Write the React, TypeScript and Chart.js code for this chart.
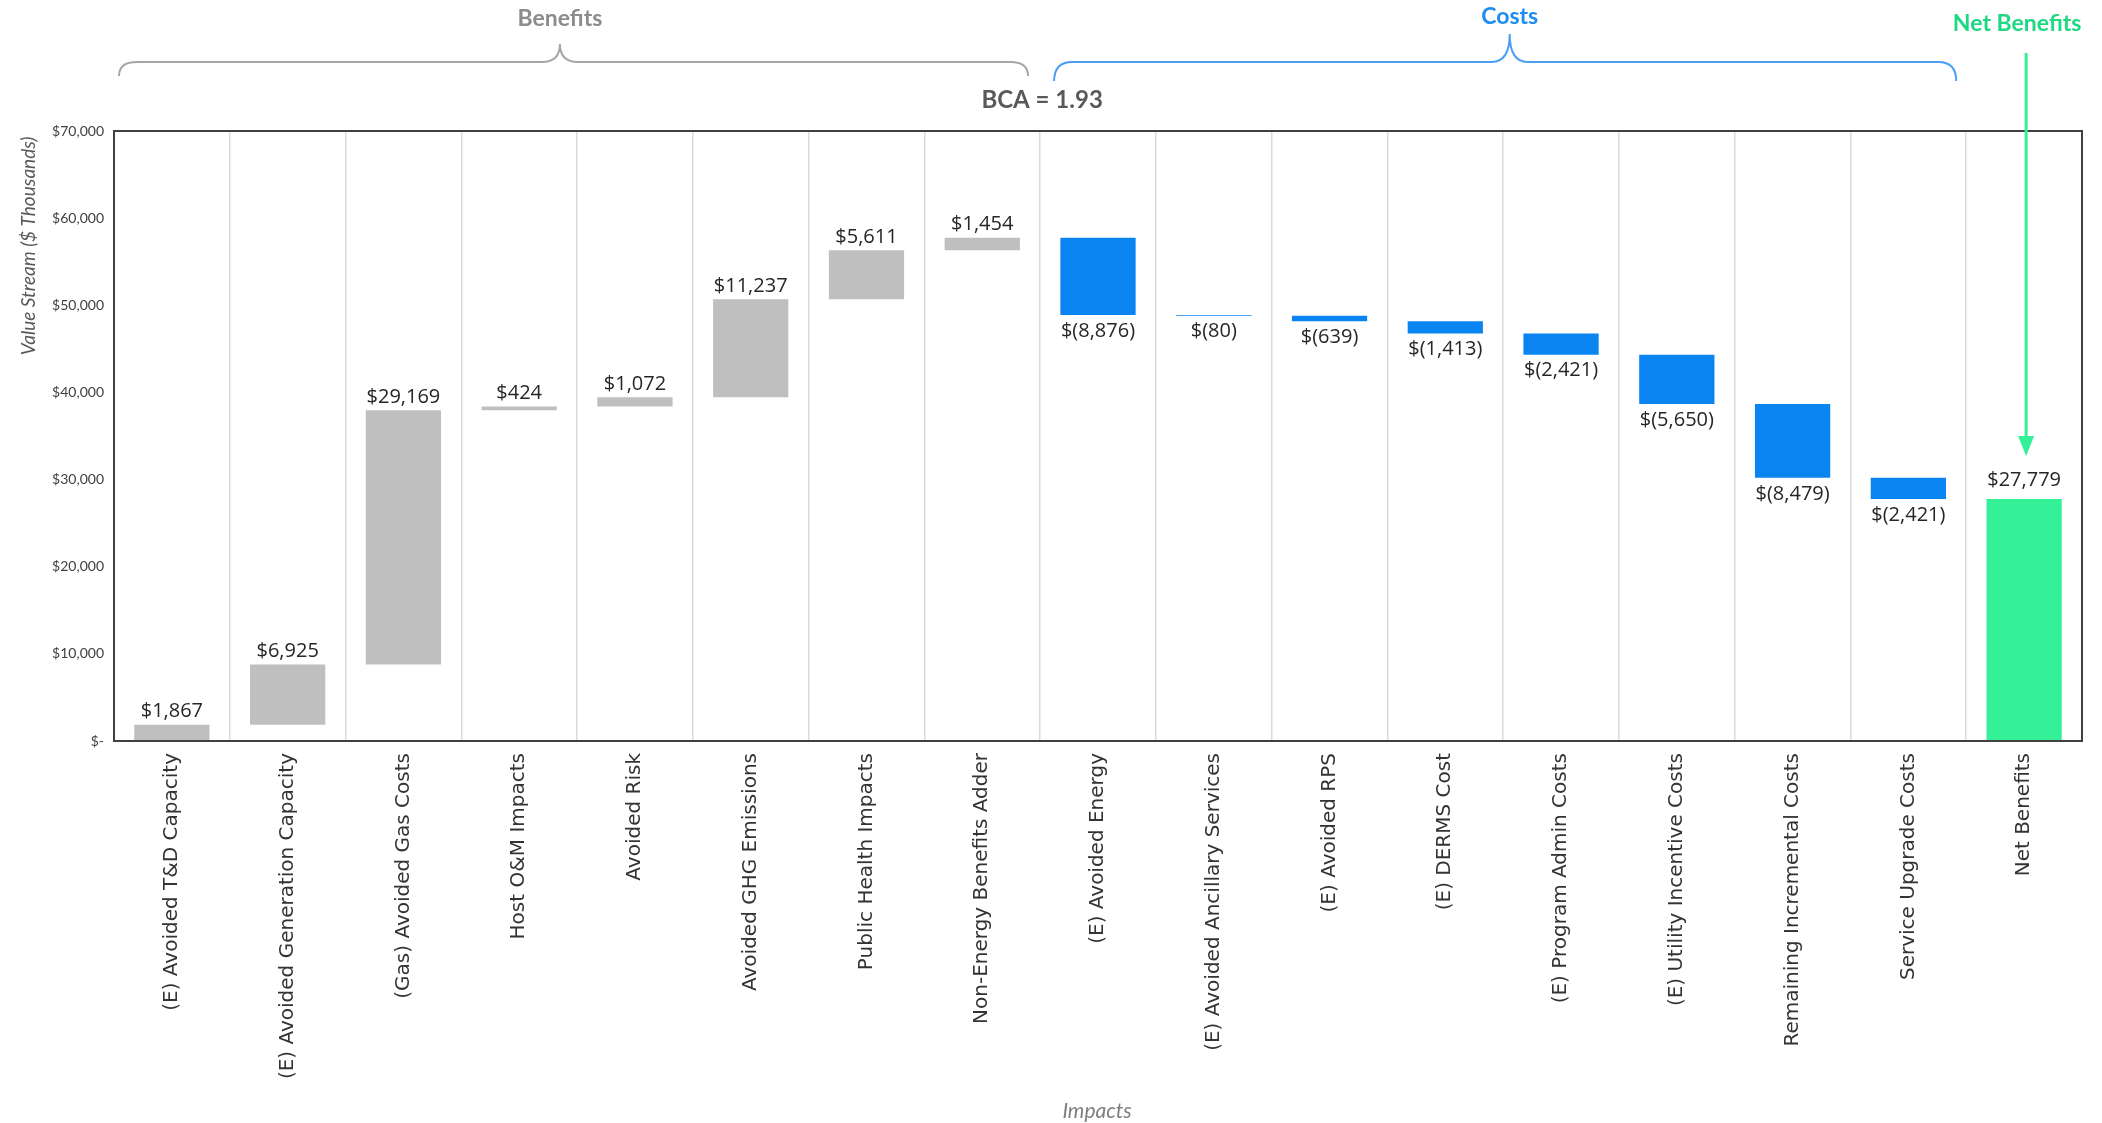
import React, { useEffect, useRef } from 'react';
import { Chart, registerables } from 'chart.js';

Chart.register(...registerables);

const benefitLabels = [
  '(E) Avoided T&D Capacity',
  '(E) Avoided Generation Capacity',
  '(Gas) Avoided Gas Costs',
  'Host O&M Impacts',
  'Avoided Risk',
  'Avoided GHG Emissions',
  'Public Health Impacts',
  'Non-Energy Benefits Adder',
];
const costLabels = [
  '(E) Avoided Energy',
  '(E) Avoided Ancillary Services',
  '(E) Avoided RPS',
  '(E) DERMS Cost',
  '(E) Program Admin Costs',
  '(E) Utility Incentive Costs',
  'Remaining Incremental Costs',
  'Service Upgrade Costs',
];
const netLabel = 'Net Benefits';

const benefitValues = [1867, 6925, 29169, 424, 1072, 11237, 5611, 1454];
const costValues = [8876, 80, 639, 1413, 2421, 5650, 8479, 2421];
const netBenefitValue = 27779;

const yTickValues = [0, 10000, 20000, 30000, 40000, 50000, 60000, 70000];
const bcaText = 'BCA = 1.93';

const GRAY = '#bfbfbf';
const BLUE = '#0a84f0';
const GREEN = '#34f097';

const fmt = (v: number) => v.toLocaleString('en-US');

export default function App() {
  const ref = useRef<HTMLCanvasElement | null>(null);

  useEffect(() => {
    document.body.style.margin = '0';
    const canvas = ref.current;
    if (!canvas) return;

    const labels = [...benefitLabels, ...costLabels, netLabel];
    const ranges: [number, number][] = [];
    const colors: string[] = [];
    const texts: string[] = [];
    const kinds: string[] = [];
    let run = 0;
    benefitValues.forEach((v) => {
      ranges.push([run, run + v]);
      run += v;
      colors.push(GRAY);
      texts.push('$' + fmt(v));
      kinds.push('b');
    });
    costValues.forEach((v) => {
      ranges.push([run, run - v]);
      run -= v;
      colors.push(BLUE);
      texts.push('$(' + fmt(v) + ')');
      kinds.push('c');
    });
    ranges.push([0, netBenefitValue]);
    colors.push(GREEN);
    texts.push('$' + fmt(netBenefitValue));
    kinds.push('n');

    const brace = (
      ctx: CanvasRenderingContext2D,
      x1: number,
      x2: number,
      xm: number,
      yEnd: number,
      yH: number,
      yPeak: number,
      color: string
    ) => {
      const r = 18;
      ctx.save();
      ctx.strokeStyle = color;
      ctx.lineWidth = 2;
      ctx.beginPath();
      ctx.moveTo(x1, yEnd);
      ctx.quadraticCurveTo(x1, yH, x1 + r, yH);
      ctx.lineTo(xm - r, yH);
      ctx.quadraticCurveTo(xm, yH, xm, yPeak);
      ctx.quadraticCurveTo(xm, yH, xm + r, yH);
      ctx.lineTo(x2 - r, yH);
      ctx.quadraticCurveTo(x2, yH, x2, yEnd);
      ctx.stroke();
      ctx.restore();
    };

    const overlay = {
      id: 'overlay',
      afterDatasetsDraw(chart: any) {
        const ctx: CanvasRenderingContext2D = chart.ctx;
        const meta = chart.getDatasetMeta(0);
        ctx.save();
        ctx.font = '20px "Open Sans", sans-serif';
        ctx.fillStyle = '#262626';
        ctx.textAlign = 'center';
        ctx.textBaseline = 'middle';
        meta.data.forEach((el: any, i: number) => {
          const top = Math.min(el.y, el.base);
          const bottom = Math.max(el.y, el.base);
          if (kinds[i] === 'c') {
            ctx.fillText(texts[i], el.x, bottom + 16);
          } else if (kinds[i] === 'n') {
            ctx.fillText(texts[i], el.x, top - 19);
          } else {
            ctx.fillText(texts[i], el.x, top - 13);
          }
        });
        ctx.restore();
      },
      afterDraw(chart: any) {
        const ctx: CanvasRenderingContext2D = chart.ctx;
        const a = chart.chartArea;
        const xs = chart.scales.x;
        const catW = (a.right - a.left) / labels.length;
        // plot border
        ctx.save();
        ctx.strokeStyle = '#404040';
        ctx.lineWidth = 2;
        ctx.strokeRect(a.left, a.top, a.right - a.left, a.bottom - a.top);
        ctx.restore();

        // y axis title
        ctx.save();
        ctx.translate(29, 246);
        ctx.rotate(-Math.PI / 2);
        ctx.font = 'italic 19px Lato, sans-serif';
        ctx.fillStyle = '#595959';
        ctx.textAlign = 'center';
        ctx.textBaseline = 'middle';
        ctx.fillText('Value Stream ($ Thousands)', 0, 0);
        ctx.restore();

        // x axis title
        ctx.save();
        ctx.font = 'italic 21px Lato, sans-serif';
        ctx.fillStyle = '#7f7f7f';
        ctx.textAlign = 'center';
        ctx.textBaseline = 'middle';
        ctx.fillText('Impacts', 1097, 1111);
        ctx.restore();

        const nb = benefitLabels.length;
        const nc = costLabels.length;
        const bStart = xs.getPixelForValue(0) - catW / 2 + 5;
        const bEnd = xs.getPixelForValue(nb - 1) + catW / 2 - 12;
        const cStart = xs.getPixelForValue(nb) - catW / 2 + 14;
        const cEnd = xs.getPixelForValue(nb + nc - 1) + catW / 2 - 10;
        const bMid = bStart + (bEnd - bStart) * 0.485;
        const cMid = cStart + (cEnd - cStart) * 0.505;

        brace(ctx, bStart, bEnd, bMid, 76, 62, 44, '#a6a6a6');
        brace(ctx, cStart, cEnd, cMid, 81, 62, 34, '#4a9ff2');

        ctx.save();
        ctx.textAlign = 'center';
        ctx.textBaseline = 'middle';
        ctx.font = 'bold 23px Lato, sans-serif';
        ctx.fillStyle = '#8c8c8c';
        ctx.fillText('Benefits', bMid, 19);
        ctx.fillStyle = '#1e8cf0';
        ctx.fillText('Costs', cMid, 17);
        const nx = xs.getPixelForValue(nb + nc);
        ctx.fillStyle = '#1fd882';
        ctx.fillText('Net Benefits', nx - 7, 24);
        ctx.font = 'bold 24px Lato, sans-serif';
        ctx.fillStyle = '#595959';
        ctx.fillText(bcaText, xs.getPixelForValue(nb) - catW / 2 + 2, 100);
        ctx.restore();

        // green arrow
        const ax = nx + 2;
        ctx.save();
        ctx.strokeStyle = GREEN;
        ctx.fillStyle = GREEN;
        ctx.lineWidth = 3;
        ctx.beginPath();
        ctx.moveTo(ax, 53);
        ctx.lineTo(ax, 440);
        ctx.stroke();
        ctx.beginPath();
        ctx.moveTo(ax - 8, 436);
        ctx.lineTo(ax + 8, 436);
        ctx.lineTo(ax, 456);
        ctx.closePath();
        ctx.fill();
        ctx.restore();
      },
    };

    const chart = new Chart(canvas, {
      type: 'bar',
      data: {
        labels,
        datasets: [
          {
            data: ranges as any,
            backgroundColor: colors,
            barPercentage: 0.65,
            categoryPercentage: 1,
            borderWidth: 0,
          },
        ],
      },
      options: {
        animation: false,
        responsive: false,
        devicePixelRatio: 1,
        layout: { padding: { top: 131, right: 20, left: 0, bottom: 0 } },
        plugins: {
          legend: { display: false },
          tooltip: { enabled: false },
          title: { display: false },
        },
        scales: {
          x: {
            grid: { color: '#d9d9d9', lineWidth: 1.5, drawTicks: false, offset: true },
            border: { display: false },
            ticks: {
              autoSkip: false,
              minRotation: 90,
              maxRotation: 90,
              padding: 12,
              color: '#333333',
              font: { family: '"DejaVu Sans", sans-serif', size: 20 },
            },
            afterFit: (s: any) => {
              s.height = 382;
            },
          },
          y: {
            min: 0,
            max: 70000,
            afterBuildTicks: (s: any) => {
              s.ticks = yTickValues.map((v) => ({ value: v }));
            },
            grid: { display: false, drawTicks: false },
            border: { display: false },
            ticks: {
              padding: 10,
              color: '#404040',
              font: { family: 'Lato, sans-serif', size: 14 },
              callback: (v: any) => (Number(v) === 0 ? '$-' : '$' + fmt(Number(v))),
            },
            afterFit: (s: any) => {
              s.width = 114;
            },
          },
        },
      },
      plugins: [overlay],
    });

    return () => chart.destroy();
  }, []);

  return (
    <div style={{ width: 2102, height: 1123, background: '#ffffff' }}>
      <canvas ref={ref} width={2102} height={1123} style={{ display: 'block' }} />
    </div>
  );
}
